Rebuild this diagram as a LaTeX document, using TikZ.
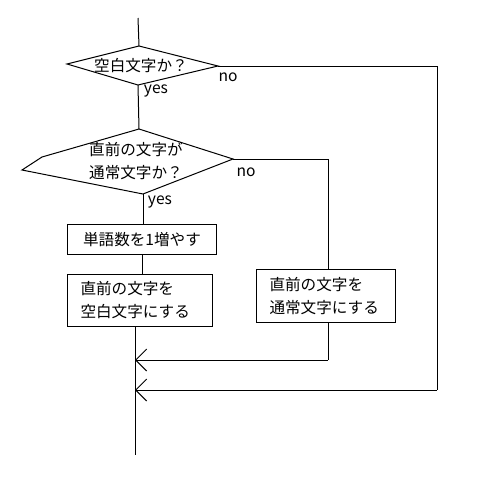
\documentclass[tikz,border=0pt]{standalone}
\usepackage{fontspec}
\setmainfont{Noto Sans CJK JP}
\usetikzlibrary{arrows.meta}
\begin{document}
\begin{tikzpicture}[x=1pt,y=-1pt,line width=1pt,
  font=\fontsize{15.6}{23}\selectfont,
  box/.style={draw,rectangle,anchor=north west,inner ysep=0pt,align=left},
  lbl/.style={inner sep=0pt,anchor=center},
  arr/.style={-{Straight Barb[length=11pt,width=22pt,line width=1pt]}}]
\useasboundingbox (0,0) rectangle (479,491);
% decision 1
\coordinate (top) at (138,18);
\coordinate (d1t) at (139,46);
\coordinate (d1r) at (218,66);
\coordinate (d1b) at (138,85);
\coordinate (d1l) at (67,64);
\draw (d1t) -- (d1r) -- (d1b) -- (d1l) -- cycle;
\node[lbl] (q1) at (141,66) {空白文字か？};
% decision 2
\coordinate (d2t) at (139,129);
\coordinate (d2r) at (233,159);
\coordinate (d2b) at (143,194);
\coordinate (d2l) at (22,170);
\coordinate (d2k) at (42,157);
\draw (d2t) -- (d2r) -- (d2b) -- (d2l) -- (d2k) -- cycle;
\node[lbl,align=center] (q2) at (136,161) {直前の文字が\\通常文字か？};
% boxes
\node[box,minimum width=149pt,minimum height=30pt,align=center] (b1) at (67,224) {単語数を1増やす};
\node[box,inner xsep=13pt,text width=119pt,minimum height=52pt] (b2) at (67,274) {直前の文字を\\空白文字にする};
\node[box,inner xsep=13pt,text width=113pt,minimum height=53pt] (b3) at (256,269) {直前の文字を\\通常文字にする};
% labels
\node[lbl] (no1) at (228,77) {no};
\node[lbl] (yes1) at (156,91) {yes};
\node[lbl] (no2) at (246,172) {no};
\node[lbl] (yes2) at (160,202) {yes};
% connectors
\coordinate (b1top) at (143,224);
\coordinate (b1bot) at (142,254);
\coordinate (b2top) at (142,274);
\coordinate (b2bot) at (135,326);
\coordinate (endp) at (135,455);
\coordinate (m1) at (135,360);
\coordinate (m2) at (135,390);
\coordinate (r1) at (437,66);
\coordinate (r2) at (437,390);
\coordinate (n1) at (328,159);
\coordinate (b3top) at (328,269);
\coordinate (b3bot) at (328,322);
\coordinate (n2) at (328,360);
\draw (top) -- (d1t);
\draw (d1b) -- (d2t);
\draw (d2b) -- (b1top);
\draw (b1bot) -- (b2top);
\draw (b2bot) -- (endp);
\draw (d1r) -- (r1) -- (r2);
\draw[arr] (r2) -- (m2);
\draw (d2r) -- (n1) -- (b3top);
\draw (b3bot) -- (n2);
\draw[arr] (n2) -- (m1);
\end{tikzpicture}
\end{document}
